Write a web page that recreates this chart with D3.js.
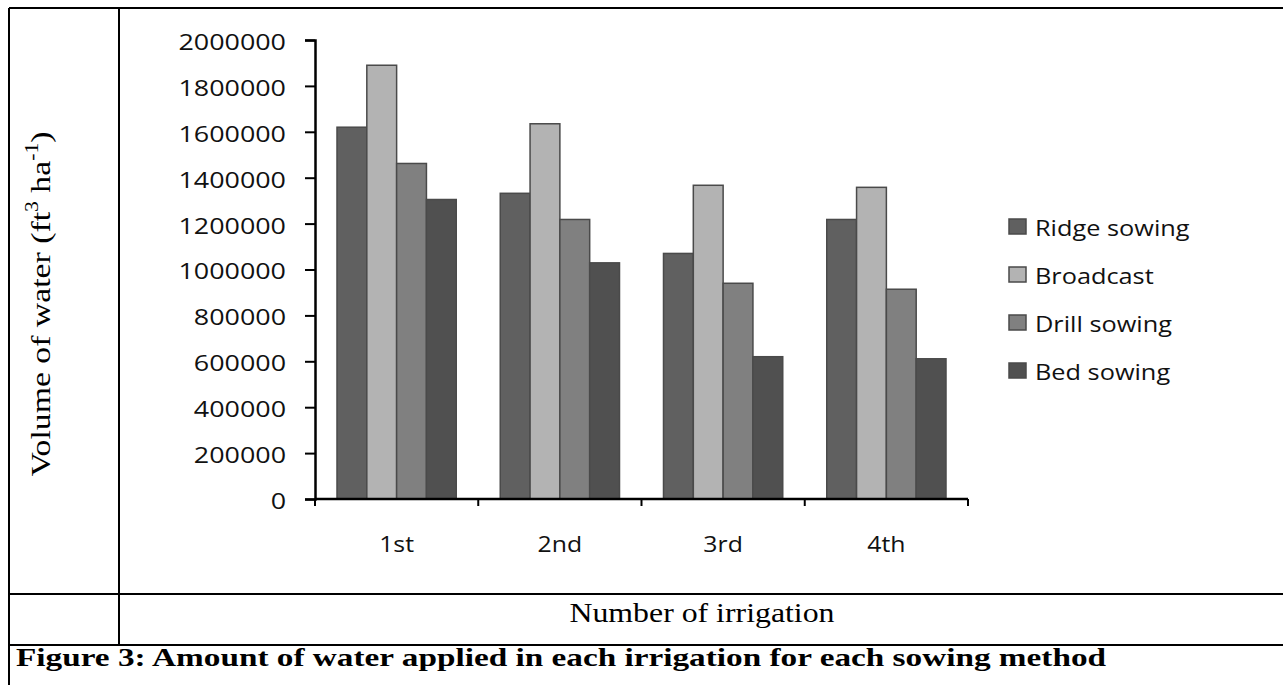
<!DOCTYPE html>
<html>
<head>
<meta charset="utf-8">
<script src="https://cdn.jsdelivr.net/npm/d3@7"></script>
<style>
  html, body { margin: 0; padding: 0; background: #fff; }
  svg { display: block; }
</style>
</head>
<body>
<svg id="chart" width="1283" height="685"></svg>
<script>
// Irrigation events and sowing methods
const irrigations = ["1st", "2nd", "3rd", "4th"];
const methods = ["Ridge sowing", "Broadcast", "Drill sowing", "Bed sowing"];

// Volume of water applied (ft3 ha-1), one array per sowing method
const ridgeSowing = [1620000, 1332000, 1070000, 1218000];
const broadcast   = [1890000, 1635000, 1367000, 1358000];
const drillSowing = [1462000, 1218000, 940000, 914000];
const bedSowing   = [1305000, 1029000, 620000, 611000];

const yTicks = [0, 200000, 400000, 600000, 800000, 1000000, 1200000, 1400000, 1600000, 1800000, 2000000];
const fills = ["#606060", "#b3b3b3", "#808080", "#505050"];

const seriesValues = [ridgeSowing, broadcast, drillSowing, bedSowing];

(function draw() {
const svg = d3.select("#chart");
const ink = "#000";
const sansFont = "'Open Sans', 'DejaVu Sans', sans-serif";
const serifFont = "'Liberation Serif', 'Times New Roman', serif";

// Widen text horizontally by a factor, keeping its anchor
function widen(sel, k) {
  sel.each(function () {
    const w = this.getComputedTextLength();
    d3.select(this).attr("textLength", w * k).attr("lengthAdjust", "spacingAndGlyphs");
  });
}

// Table frame around the figure
const frame = svg.append("g").attr("stroke", ink).attr("stroke-width", 2).attr("fill", "none");
frame.append("line").attr("x1", 9).attr("x2", 1283).attr("y1", 8).attr("y2", 8);
frame.append("line").attr("x1", 9).attr("x2", 9).attr("y1", 8).attr("y2", 685);
frame.append("line").attr("x1", 119).attr("x2", 119).attr("y1", 8).attr("y2", 645);
frame.append("line").attr("x1", 9).attr("x2", 1283).attr("y1", 594).attr("y2", 594);
frame.append("line").attr("x1", 9).attr("x2", 1283).attr("y1", 645).attr("y2", 645);

// Plot area
const plotLeft = 315, plotRight = 968, plotTop = 40, plotBottom = 499;

const x0 = d3.scaleBand().domain(irrigations).range([plotLeft, plotRight]).paddingInner(0).paddingOuter(0);
const x1 = d3.scaleBand().domain(methods).range([22, x0.bandwidth() - 22]).padding(0);
const y = d3.scaleLinear().domain([0, 2000000]).range([plotBottom, plotTop]);

// Bars
const groups = svg.append("g").selectAll("g")
  .data(irrigations)
  .join("g")
  .attr("transform", d => `translate(${x0(d)},0)`);

groups.selectAll("rect")
  .data((d, i) => methods.map((m, j) => ({ method: m, value: seriesValues[j][i], color: fills[j] })))
  .join("rect")
  .attr("x", d => x1(d.method))
  .attr("width", x1.bandwidth())
  .attr("y", d => y(d.value))
  .attr("height", d => y(0) - y(d.value))
  .attr("fill", d => d.color)
  .attr("stroke", "#4a4a4a")
  .attr("stroke-width", 1.5);

// Y axis
const yAxis = d3.axisLeft(y).tickValues(yTicks).tickFormat(d3.format("d")).tickSize(10).tickPadding(19);
const yg = svg.append("g").attr("transform", `translate(${plotLeft},0)`).call(yAxis);
yg.select(".domain").attr("stroke", ink).attr("stroke-width", 2.5);
yg.selectAll(".tick line").attr("stroke", ink).attr("stroke-width", 2);
yg.selectAll(".tick text")
  .attr("font-family", sansFont).attr("font-size", 21).attr("fill", "#111")
  .attr("dy", "0.45em")
  .call(widen, 1.28);

// X axis: ticks at category boundaries
const xg = svg.append("g").attr("transform", `translate(0,${plotBottom})`);
xg.append("line").attr("x1", plotLeft).attr("x2", plotRight).attr("y1", 0).attr("y2", 0)
  .attr("stroke", ink).attr("stroke-width", 2.5);
const boundaries = irrigations.map(d => x0(d)).concat([x0(irrigations[irrigations.length - 1]) + x0.bandwidth()]);
xg.selectAll("line.bnd").data(boundaries).join("line").attr("class", "bnd")
  .attr("x1", d => d).attr("x2", d => d).attr("y1", 0).attr("y2", 7)
  .attr("stroke", ink).attr("stroke-width", 2);
xg.selectAll("text").data(irrigations).join("text")
  .attr("x", d => x0(d) + x0.bandwidth() / 2)
  .attr("y", 53)
  .attr("text-anchor", "middle")
  .attr("font-family", sansFont).attr("font-size", 21).attr("fill", "#111")
  .text(d => d)
  .call(widen, 1.18);

// Legend
const legend = svg.append("g").attr("transform", "translate(1009,219)");
const items = legend.selectAll("g").data(methods).join("g")
  .attr("transform", (d, i) => `translate(0,${i * 48})`);
items.append("rect").attr("width", 17).attr("height", 15).attr("y", 0)
  .attr("fill", (d, i) => fills[i]).attr("stroke", "#4a4a4a").attr("stroke-width", 1.5);
items.append("text").attr("x", 26).attr("y", 17)
  .attr("font-family", sansFont).attr("font-size", 22).attr("fill", "#111")
  .text(d => d)
  .call(widen, 1.15);

// Y axis title with superscripts
const yTitle = svg.append("text")
  .attr("text-anchor", "middle")
  .attr("font-family", serifFont).attr("font-size", 28).attr("fill", ink);
yTitle.append("tspan").text("Volume of water (ft");
yTitle.append("tspan").attr("font-size", 18).attr("dy", -12).text("3");
yTitle.append("tspan").attr("dy", 12).text(" ha");
yTitle.append("tspan").attr("font-size", 18).attr("dy", -12).text("-1");
yTitle.append("tspan").attr("dy", 12).text(")");
const titleLen = yTitle.node().getBBox().width;
yTitle.attr("transform", `translate(50,304) rotate(-90) scale(${345 / titleLen},1)`);

// X axis title
svg.append("text")
  .attr("x", 702).attr("y", 622)
  .attr("text-anchor", "middle")
  .attr("font-family", serifFont).attr("font-size", 27).attr("fill", ink)
  .attr("textLength", 265).attr("lengthAdjust", "spacingAndGlyphs")
  .text("Number of irrigation");

// Caption
svg.append("text")
  .attr("x", 16).attr("y", 666)
  .attr("font-family", serifFont).attr("font-size", 25).attr("font-weight", "bold").attr("fill", ink)
  .attr("textLength", 1090).attr("lengthAdjust", "spacingAndGlyphs")
  .text("Figure 3: Amount of water applied in each irrigation for each sowing method");
})();
</script>
</body>
</html>
